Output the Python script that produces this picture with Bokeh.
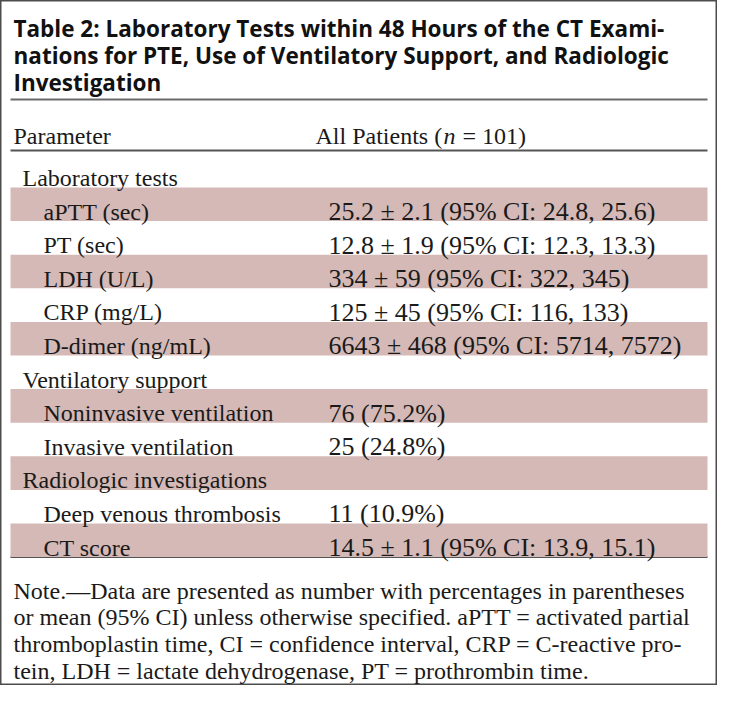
from bokeh.plotting import figure
from bokeh.models import Range1d, ColumnDataSource
from bokeh.core.properties import value
from bokeh.embed import file_html
from bokeh.resources import INLINE

# ---------------- data ----------------
title_lines = [
    "Table 2: Laboratory Tests within 48 Hours of the CT Exami-",
    "nations for PTE, Use of Ventilatory Support, and Radiologic",
    "Investigation",
]
header_param = "Parameter"
header_value_parts = ["All Patients (", "n", "= 101)"]

row_labels = [
    "Laboratory tests",
    "aPTT (sec)",
    "PT (sec)",
    "LDH (U/L)",
    "CRP (mg/L)",
    "D-dimer (ng/mL)",
    "Ventilatory support",
    "Noninvasive ventilation",
    "Invasive ventilation",
    "Radiologic investigations",
    "Deep venous thrombosis",
    "CT score",
]
row_values = [
    "",
    "25.2 ± 2.1 (95% CI: 24.8, 25.6)",
    "12.8 ± 1.9 (95% CI: 12.3, 13.3)",
    "334 ± 59 (95% CI: 322, 345)",
    "125 ± 45 (95% CI: 116, 133)",
    "6643 ± 468 (95% CI: 5714, 7572)",
    "",
    "76 (75.2%)",
    "25 (24.8%)",
    "",
    "11 (10.9%)",
    "14.5 ± 1.1 (95% CI: 13.9, 15.1)",
]
row_is_section = [True, False, False, False, False, False, True, False, False, True, False, False]
row_shaded = [False, True, False, True, False, True, False, True, False, True, False, True]

note_lines = [
    "Note.\u2014Data are presented as number with percentages in parentheses",
    "or mean (95% CI) unless otherwise specified. aPTT = activated partial",
    "thromboplastin time, CI = confidence interval, CRP = C-reactive pro-",
    "tein, LDH = lactate dehydrogenase, PT = prothrombin time.",
]

# ---------------- layout ----------------
W, H = 717, 685
SERIF = value("Liberation Serif")
BODY_SIZE = value("24px")
VALUE_SIZE = value("26px")
TEXT_COLOR = "#1a1a1a"
BAND_COLOR = "#d4b9b7"
RULE_COLOR = "#555555"

p = figure(width=W, height=H, output_backend="svg", toolbar_location=None,
           x_range=Range1d(8, 8 + W), y_range=Range1d(8 + H, 8),
           min_border=0)
p.axis.visible = False
p.grid.visible = False
p.background_fill_color = "white"
p.border_fill_color = "white"
p.outline_line_color = "#4d4d4d"
p.outline_line_width = 2

# title
title_base = 36
title_pitch = 27
p.text(x=[21] * len(title_lines),
       y=[title_base + i * title_pitch for i in range(len(title_lines))],
       text=title_lines, text_font=value("Open Sans"), text_font_style="bold",
       text_font_size=value("22.5px"), text_color="#111111",
       text_baseline="alphabetic", text_align="left")

# rules
LEFT, RIGHT = 18, 715
row_top0 = 161.4
row_h = 33.6
n_rows = len(row_labels)
bottom_rule = row_top0 + n_rows * row_h
p.segment(x0=[LEFT, LEFT, LEFT], x1=[RIGHT, RIGHT, RIGHT],
          y0=[107, 158, bottom_rule], y1=[107, 158, bottom_rule],
          line_color=["#6a6a6a", RULE_COLOR, RULE_COLOR], line_width=2)

# header
VAL_X = 336
p.text(x=[21], y=[143], text=[header_param], text_font=SERIF,
       text_font_size=BODY_SIZE, text_color=TEXT_COLOR, text_baseline="alphabetic")
hx = 323
p.text(x=[hx], y=[143], text=[header_value_parts[0]], text_font=SERIF,
       text_font_size=BODY_SIZE, text_color=TEXT_COLOR, text_baseline="alphabetic")
p.text(x=[hx + 128], y=[143], text=[header_value_parts[1]], text_font=SERIF,
       text_font_style="italic", text_font_size=BODY_SIZE, text_color=TEXT_COLOR,
       text_baseline="alphabetic")
p.text(x=[hx + 147], y=[143], text=[header_value_parts[2]], text_font=SERIF,
       text_font_size=BODY_SIZE, text_color=TEXT_COLOR, text_baseline="alphabetic")

# shaded bands
tops = [row_top0 + i * row_h for i in range(n_rows)]
band_src = ColumnDataSource(dict(
    top=[t for t, s in zip(tops, row_shaded) if s],
    bottom=[t + row_h for t, s in zip(tops, row_shaded) if s],
))
p.quad(left=LEFT, right=RIGHT, top="top", bottom="bottom", source=band_src,
       fill_color=BAND_COLOR, line_color=None)

# row texts
row_src = ColumnDataSource(dict(
    x=[30 if s else 51 for s in row_is_section],
    y=[t + 24 for t in tops],
    label=row_labels,
    val=row_values,
    vx=[VAL_X] * n_rows,
))
p.text(x="x", y="y", text="label", source=row_src, text_font=SERIF,
       text_font_size=BODY_SIZE, text_color=TEXT_COLOR, text_baseline="alphabetic")
p.text(x="vx", y="y", text="val", source=row_src, text_font=SERIF,
       text_font_size=VALUE_SIZE, text_color=TEXT_COLOR, text_baseline="alphabetic")

# note
note_base = 598
note_pitch = 26.7
p.text(x=[21] * len(note_lines),
       y=[note_base + i * note_pitch for i in range(len(note_lines))],
       text=note_lines, text_font=SERIF, text_font_size=BODY_SIZE,
       text_color=TEXT_COLOR, text_baseline="alphabetic")

open("out.html", "w").write(file_html(p, INLINE))
